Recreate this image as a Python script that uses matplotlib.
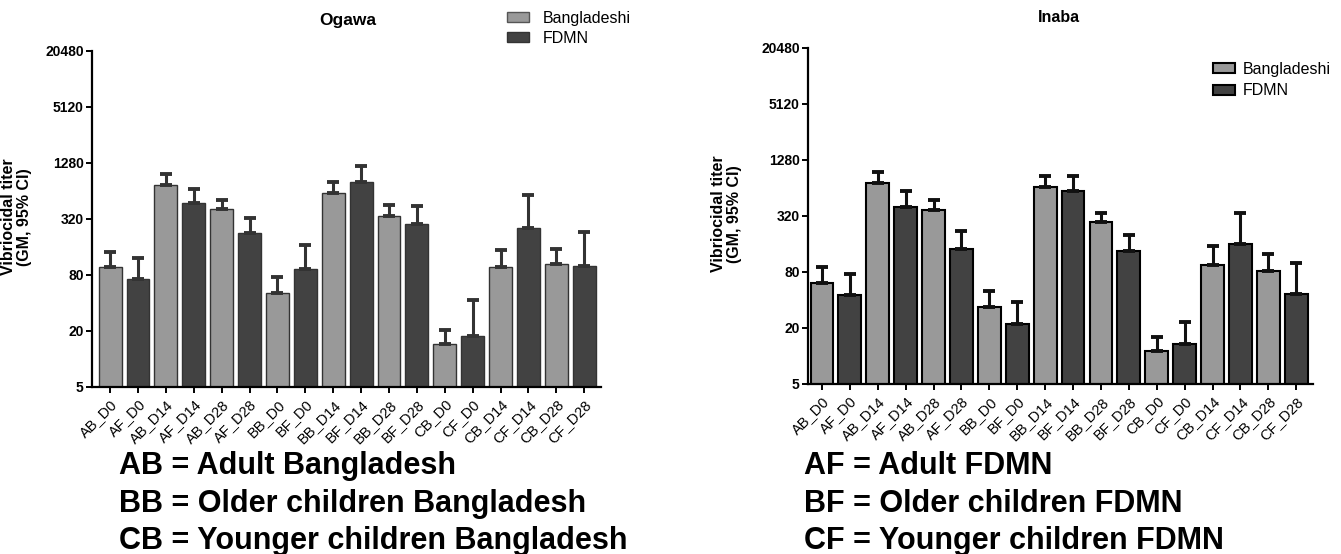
import numpy as np
import matplotlib
matplotlib.use("Agg")
import matplotlib.pyplot as plt
from matplotlib.patches import Patch

plt.rcParams['font.family'] = ['Liberation Sans']

groups = ["AB_D0", "AF_D0", "AB_D14", "AF_D14", "AB_D28", "AF_D28",
          "BB_D0", "BF_D0", "BB_D14", "BF_D14", "BB_D28", "BF_D28",
          "CB_D0", "CF_D0", "CB_D14", "CF_D14", "CB_D28", "CF_D28"]

# geometric mean titers and upper 95% CI
ogawa_gm = [98, 72, 744, 467, 410, 224, 51, 92, 610, 800, 345, 279,
            14.4, 17.5, 98, 254, 104, 100]
ogawa_hi = [141, 122, 965, 662, 508, 322, 76, 166, 794, 1182, 452, 434,
            20.3, 42.5, 147, 575, 150, 228]
inaba_gm = [61, 45, 711, 399, 371, 142, 33.6, 22.1, 657, 588, 274, 132,
            11.2, 13.2, 95, 160, 82, 46]
inaba_hi = [89, 75, 940, 588, 467, 219, 50, 37.7, 848, 860, 342, 198,
            15.9, 23.3, 153, 342, 125, 99]

yticks = [5, 20, 80, 320, 1280, 5120, 20480]

light = "#999999"
dark = "#424242"
colors = [light if g[1] == "B" else dark for g in groups]

W, H = 1341, 554
fig = plt.figure(figsize=(W / 100, H / 100), dpi=100)


def panel(rect, gm, hi, xlim, edge, elw, ecol):
    ax = fig.add_axes(rect)
    x = np.arange(len(groups))
    gm = np.array(gm)
    hi = np.array(hi)
    ax.bar(x, gm, width=0.82, color=colors, edgecolor=edge, linewidth=elw)
    ax.errorbar(x, gm, yerr=[np.zeros_like(gm), hi - gm], fmt="none",
                ecolor=ecol, elinewidth=2.2, capsize=4, capthick=2.8)
    ax.set_yscale("log", base=2)
    ax.set_ylim(5, 20480)
    ax.set_xlim(*xlim)
    ax.set_yticks(yticks)
    ax.set_yticklabels([str(t) for t in yticks], fontsize=10, fontweight="bold")
    ax.minorticks_off()
    ax.set_xticks(x)
    ax.set_xticklabels(groups, rotation=45, ha="right", rotation_mode="anchor",
                       fontsize=10.5)
    for s in ["top", "right"]:
        ax.spines[s].set_visible(False)
    for s in ["left", "bottom"]:
        ax.spines[s].set_linewidth(1.6)
    ax.tick_params(axis="y", direction="out", length=4.5, width=1.4, pad=1.5)
    ax.tick_params(axis="x", direction="out", length=4.5, width=1.4, pad=3)
    ax.set_ylabel("Vibriocidal titer\n(GM, 95% CI)", fontsize=11.5, fontweight="bold",
                  linespacing=1.05)
    return ax


ax1 = panel([92 / W, 1 - 386.7 / H, 509 / W, 336 / H], ogawa_gm, ogawa_hi,
            (-0.65, 17.6), "#333333", 1.0, "#333333")
ax2 = panel([808 / W, 1 - 383.7 / H, 505 / W, 336 / H], inaba_gm, inaba_hi,
            (-0.5, 17.6), "black", 1.5, "#111111")
ax1.yaxis.set_label_coords(-0.118, 0.505)
ax2.yaxis.set_label_coords(-0.131, 0.505)

fig.text(348 / W, 1 - 21 / H, "Ogawa", fontsize=12.5, fontweight="bold", ha="center", va="center")
fig.text(1059 / W, 1 - 18 / H, "Inaba", fontsize=11.5, fontweight="bold", ha="center", va="center")

handles = [Patch(facecolor=light, edgecolor="#555555", label="Bangladeshi"),
           Patch(facecolor=dark, edgecolor="#333333", label="FDMN")]
fig.legend(handles=handles, loc="upper left", bbox_to_anchor=(507 / W, 1 - 11 / H),
           frameon=False, fontsize=11.5, handlelength=1.4, handleheight=0.6,
           handletextpad=0.85, labelspacing=0.3, borderpad=0, borderaxespad=0)
handles2 = [Patch(facecolor=light, edgecolor="black", linewidth=1.5, label="Bangladeshi"),
            Patch(facecolor=dark, edgecolor="black", linewidth=1.5, label="FDMN")]
fig.legend(handles=handles2, loc="upper left", bbox_to_anchor=(1213 / W, 1 - 62 / H),
           frameon=False, fontsize=11.5, handlelength=1.4, handleheight=0.6,
           handletextpad=0.45, labelspacing=0.4, borderpad=0, borderaxespad=0)

left_notes = ["AB = Adult Bangladesh", "BB = Older children Bangladesh",
              "CB = Younger children Bangladesh"]
right_notes = ["AF = Adult FDMN", "BF = Older children FDMN", "CF = Younger children FDMN"]
note_y = [466, 504, 541]
for l, r, yy in zip(left_notes, right_notes, note_y):
    fig.text(119 / W, 1 - yy / H, l, fontsize=22, fontweight="bold", va="center")
    fig.text(804 / W, 1 - yy / H, r, fontsize=22, fontweight="bold", va="center")

fig.savefig("out.png", dpi=100)
